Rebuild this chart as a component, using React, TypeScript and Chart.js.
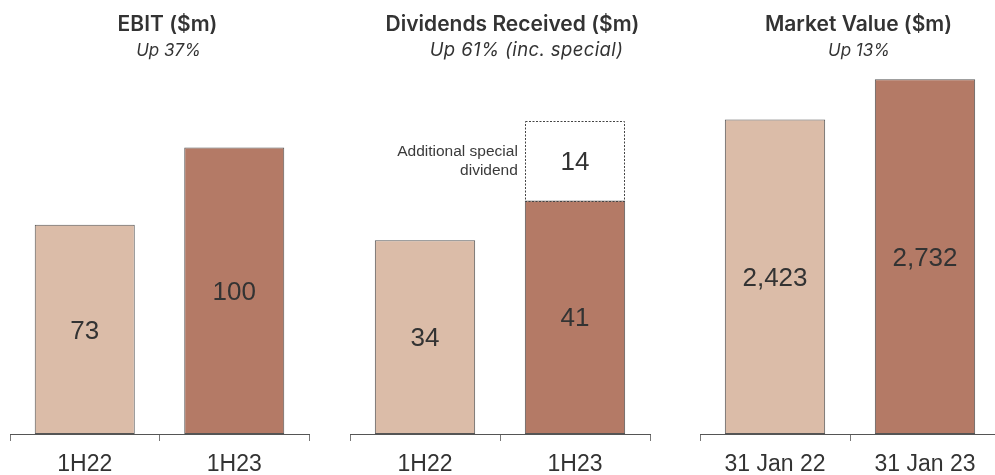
import React, { useEffect, useRef } from "react";
import { Chart, registerables } from "chart.js";

Chart.register(...registerables);

// ---- data ----
const EBIT_LABELS = ["1H22", "1H23"];
const EBIT_VALUES = [73, 100];

const DIV_LABELS = ["1H22", "1H23"];
const DIV_ORDINARY = [34, 41];
const DIV_SPECIAL: (number | null)[] = [null, 14];
const DIV_SPECIAL_NOTE = ["Additional special", "dividend"];

const MV_LABELS = ["31 Jan 22", "31 Jan 23"];
const MV_VALUES = [2423, 2732];

const BAR_COLORS = ["#dbbca8", "#b47a66"];
const TEXT = "#333333";
const SANS = "'Liberation Sans', Arial, sans-serif";
const HEAD = "Inter, 'Noto Sans', sans-serif";

// Headings drawn above each panel
const headingPlugin = {
  id: "panelHeading",
  afterDraw(chart: any, _args: any, opts: any) {
    const { ctx, chartArea } = chart;
    const cx = (chartArea.left + chartArea.right) / 2;
    ctx.save();
    ctx.fillStyle = TEXT;
    ctx.textAlign = "center";
    ctx.textBaseline = "alphabetic";
    ctx.font = `600 21px ${HEAD}`;
    ctx.fillText(opts.title, cx + opts.titleDx, 31);
    ctx.font = `italic 400 ${opts.subSize || 17}px ${HEAD}`;
    if ("letterSpacing" in ctx) (ctx as any).letterSpacing = `${opts.subSpacing || 0}px`;
    ctx.fillText(opts.subtitle, cx + opts.subDx, 56);
    ctx.restore();
  },
};

// Value labels centred inside each bar segment, dotted outline for flagged datasets
const barLabelPlugin = {
  id: "barLabels",
  afterDatasetsDraw(chart: any) {
    const { ctx } = chart;
    chart.data.datasets.forEach((ds: any, di: number) => {
      const meta = chart.getDatasetMeta(di);
      meta.data.forEach((el: any, i: number) => {
        const v = ds.data[i];
        if (v === null || v === undefined) return;
        const { x, y, base, width } = el.getProps(["x", "y", "base", "width"], true);
        const cy = (y + base) / 2;
        ctx.save();
        if (ds.dotted) {
          ctx.strokeStyle = "#444";
          ctx.lineWidth = 1;
          ctx.setLineDash([2, 1.5]);
          ctx.strokeRect(Math.round(x - width / 2) + 0.5, Math.round(y) + 0.5, Math.round(width) - 1, Math.round(base - y));
          ctx.setLineDash([]);
          if (ds.note) {
            ctx.fillStyle = "#3a3a3a";
            ctx.font = `400 15.5px ${SANS}`;
            ctx.textAlign = "right";
            ctx.textBaseline = "alphabetic";
            ds.note.forEach((line: string, li: number) => {
              ctx.fillText(line, x - width / 2 - 7, cy - 5 + li * 19);
            });
          }
        }
        ctx.fillStyle = TEXT;
        ctx.font = `400 26px ${SANS}`;
        ctx.textAlign = "center";
        ctx.textBaseline = "middle";
        ctx.fillText(Number(v).toLocaleString("en-US"), x, cy + 2);
        ctx.restore();
      });
    });
  },
};

type Panel = {
  labels: string[];
  datasets: any[];
  max: number;
  title: string;
  subtitle: string;
  titleDx: number;
  subDx: number;
  subSize?: number;
  subSpacing?: number;
  padLeft: number;
  padRight: number;
};

function BarPanel({ panel, left, width }: { panel: Panel; left: number; width: number }) {
  const ref = useRef<HTMLCanvasElement | null>(null);
  useEffect(() => {
    if (!ref.current) return;
    const chart = new Chart(ref.current, {
      type: "bar",
      data: { labels: panel.labels, datasets: panel.datasets },
      options: {
        responsive: false,
        animation: false,
        devicePixelRatio: 1,
        layout: { padding: { top: 70, left: panel.padLeft, right: panel.padRight, bottom: 0 } },
        plugins: {
          legend: { display: false },
          tooltip: { enabled: false },
          title: { display: false },
          panelHeading: {
            title: panel.title,
            subtitle: panel.subtitle,
            titleDx: panel.titleDx,
            subDx: panel.subDx,
            subSize: panel.subSize,
            subSpacing: panel.subSpacing,
          },
        } as any,
        scales: {
          x: {
            stacked: true,
            grid: {
              offset: true,
              drawOnChartArea: false,
              drawTicks: true,
              tickLength: 7,
              color: "#777",
              lineWidth: 1,
            },
            border: { display: true, color: "#555", width: 1 },
            ticks: {
              color: TEXT,
              font: { family: SANS, size: 23 },
              padding: 10,
              maxRotation: 0,
              autoSkip: false,
            },
            afterFit: (s: any) => {
              s.height = 41;
            },
          },
          y: { display: false, stacked: true, min: 0, max: panel.max },
        },
      },
      plugins: [headingPlugin, barLabelPlugin],
    });
    return () => chart.destroy();
  }, [panel]);
  return (
    <canvas
      ref={ref}
      width={width}
      height={475}
      style={{ position: "absolute", left, top: 0, width, height: 475 }}
    />
  );
}

const barStyle = {
  borderColor: "#555",
  borderWidth: 1,
  borderSkipped: false,
  barPercentage: 0.669,
  categoryPercentage: 1,
};

const PANELS: { panel: Panel; left: number; width: number }[] = [
  {
    left: 0,
    width: 330,
    panel: {
      labels: EBIT_LABELS,
      datasets: [{ data: EBIT_VALUES, backgroundColor: BAR_COLORS, ...barStyle }],
      max: 127,
      title: "EBIT ($m)",
      subtitle: "Up 37%",
      titleDx: 8,
      subDx: 9,
      padLeft: 10,
      padRight: 21,
    },
  },
  {
    left: 340,
    width: 330,
    panel: {
      labels: DIV_LABELS,
      datasets: [
        { data: DIV_ORDINARY, backgroundColor: BAR_COLORS, ...barStyle },
        {
          data: DIV_SPECIAL,
          backgroundColor: "#ffffff",
          ...barStyle,
          borderWidth: 0,
          dotted: true,
          note: DIV_SPECIAL_NOTE,
        },
      ],
      max: 63.9,
      title: "Dividends Received ($m)",
      subtitle: "Up 61% (inc. special)",
      titleDx: 12.5,
      subDx: 26.5,
      subSize: 18.5,
      subSpacing: 0.4,
      padLeft: 10,
      padRight: 20,
    },
  },
  {
    left: 690,
    width: 310,
    panel: {
      labels: MV_LABELS,
      datasets: [{ data: MV_VALUES, backgroundColor: BAR_COLORS, ...barStyle }],
      max: 2804,
      title: "Market Value ($m)",
      subtitle: "Up 13%",
      titleDx: 8.5,
      subDx: 9,
      padLeft: 10,
      padRight: 0,
    },
  },
];

export default function App() {
  return (
    <div
      style={{
        position: "fixed",
        left: 0,
        top: 0,
        width: 995,
        height: 475,
        overflow: "hidden",
        background: "#ffffff",
      }}
    >
      {PANELS.map((p, i) => (
        <BarPanel key={i} panel={p.panel} left={p.left} width={p.width} />
      ))}
    </div>
  );
}
